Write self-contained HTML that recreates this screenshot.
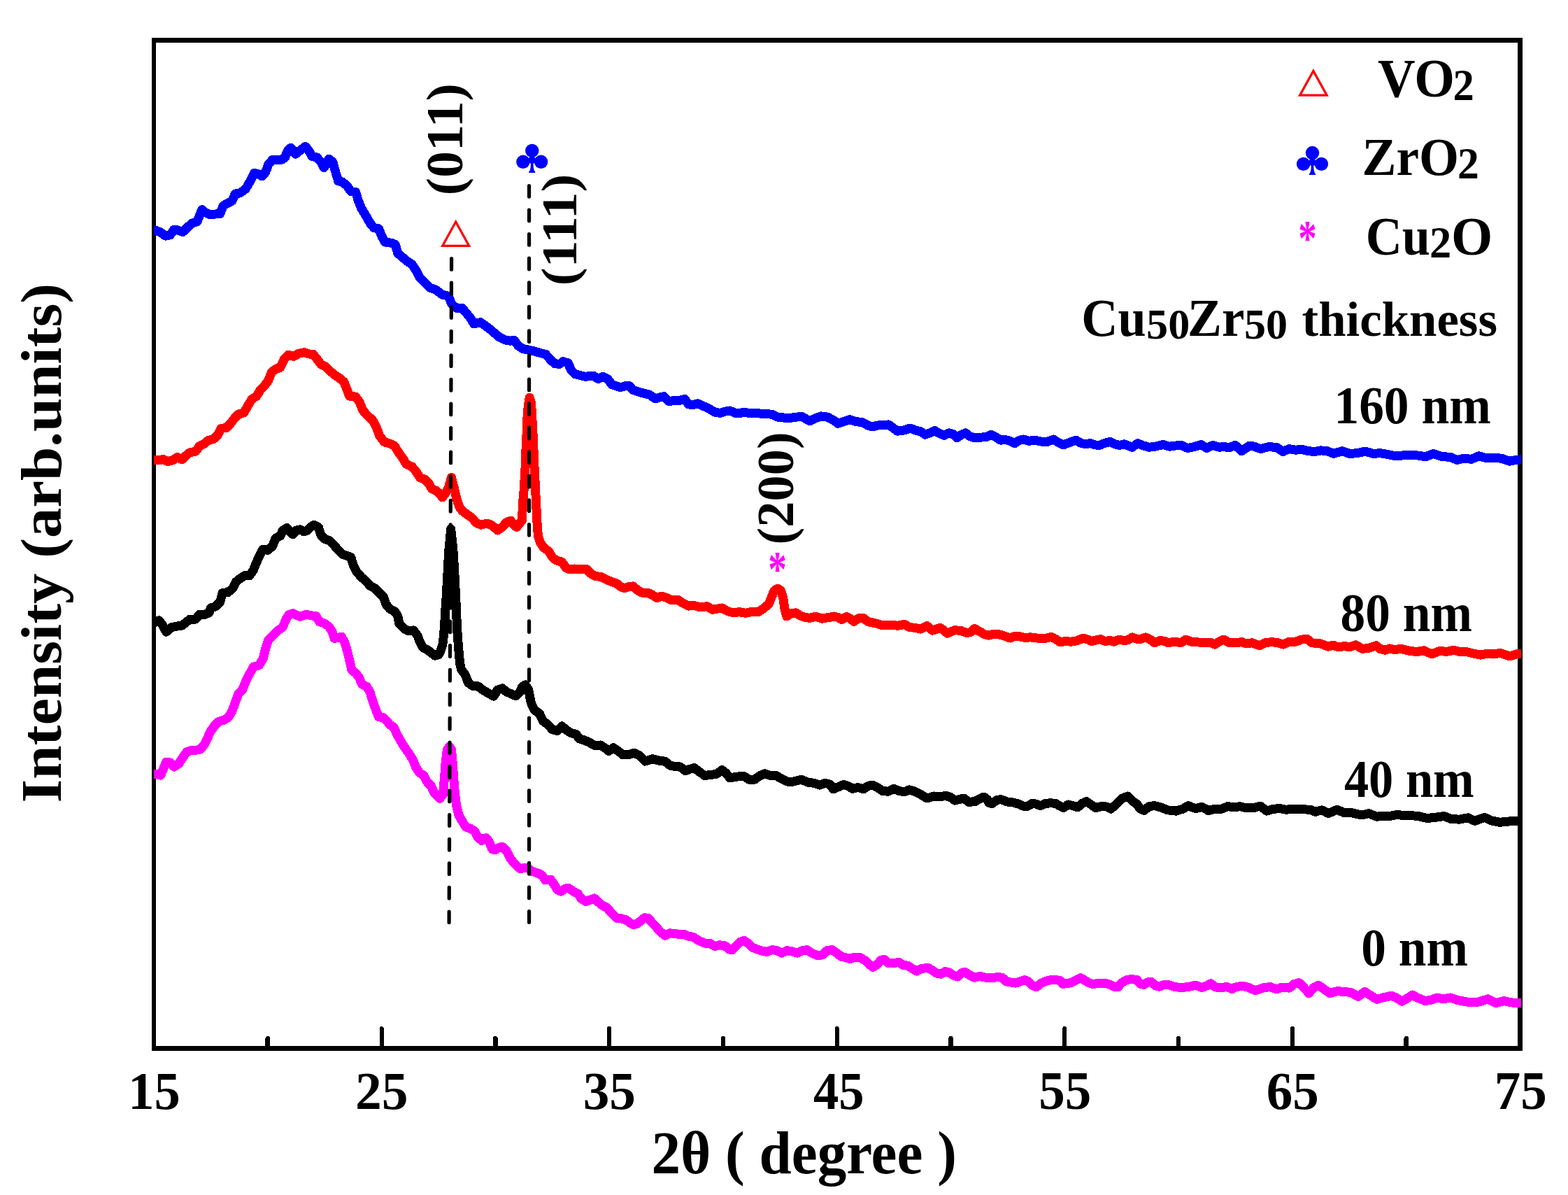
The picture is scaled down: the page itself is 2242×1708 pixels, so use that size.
<!DOCTYPE html>
<html lang="en"><head><meta charset="utf-8"><title>XRD patterns</title>
<style>html,body{margin:0;padding:0;background:#fff}svg{display:block}</style></head>
<body>
<svg width="2242" height="1708" viewBox="0 0 2242 1708" font-family="'Liberation Serif', serif" font-weight="bold" font-size="100">
<rect width="2242" height="1708" fill="#fff"/>
<defs><clipPath id="plot"><rect x="219.9" y="58" width="1955.2" height="1440"/></clipPath></defs>
<g stroke="#000" fill="none" shape-rendering="crispEdges">
<path d="M217 54H2177V1502H217Z M223 61V1495H2170V61Z" fill="#000" fill-rule="evenodd" stroke="none"/>
<line x1="382.79" y1="1497" x2="382.79" y2="1484.2" stroke-width="6.6" stroke-linecap="round"/>
<line x1="545.58" y1="1497" x2="545.58" y2="1470" stroke-width="6" stroke-linecap="round"/>
<line x1="708.38" y1="1497" x2="708.38" y2="1484.2" stroke-width="6.6" stroke-linecap="round"/>
<line x1="871.17" y1="1497" x2="871.17" y2="1470" stroke-width="6" stroke-linecap="round"/>
<line x1="1033.96" y1="1497" x2="1033.96" y2="1484.2" stroke-width="6.6" stroke-linecap="round"/>
<line x1="1196.75" y1="1497" x2="1196.75" y2="1470" stroke-width="6" stroke-linecap="round"/>
<line x1="1359.54" y1="1497" x2="1359.54" y2="1484.2" stroke-width="6.6" stroke-linecap="round"/>
<line x1="1522.33" y1="1497" x2="1522.33" y2="1470" stroke-width="6" stroke-linecap="round"/>
<line x1="1685.12" y1="1497" x2="1685.12" y2="1484.2" stroke-width="6.6" stroke-linecap="round"/>
<line x1="1847.92" y1="1497" x2="1847.92" y2="1470" stroke-width="6" stroke-linecap="round"/>
<line x1="2010.71" y1="1497" x2="2010.71" y2="1484.2" stroke-width="6.6" stroke-linecap="round"/>
</g>
<g clip-path="url(#plot)" shape-rendering="crispEdges">
<polyline points="217.0,1106.2 221.8,1106.2 229.7,1108.0 234.3,1097.2 237.7,1089.2 243.3,1089.9 249.0,1096.0 255.8,1091.5 261.5,1082.4 267.2,1074.5 274.0,1072.2 280.8,1072.2 286.4,1071.1 292.1,1064.3 296.6,1055.2 301.2,1045.0 306.8,1037.1 312.5,1031.4 320.4,1029.1 326.1,1025.7 331.8,1016.7 336.3,1004.2 340.9,991.7 346.5,986.1 351.1,974.7 356.7,963.4 362.4,953.2 370.3,950.9 376.0,941.8 379.4,928.2 383.9,914.6 390.7,907.8 397.5,901.0 404.3,896.5 408.9,885.1 413.4,878.3 419.1,876.8 424.8,879.5 429.3,881.3 433.8,879.9 438.4,878.3 445.2,879.9 452.0,880.6 456.5,888.5 463.3,890.8 470.1,895.4 474.6,902.2 478.0,912.4 483.7,911.2 488.2,910.1 492.8,918.0 496.2,929.4 499.6,943.0 503.0,957.7 508.7,962.2 513.2,967.9 517.7,978.1 524.5,981.5 529.1,989.5 532.5,1000.8 537.0,1013.3 541.5,1024.6 548.3,1025.7 554.0,1031.4 557.4,1035.9 563.1,1039.3 567.6,1049.5 573.3,1059.8 578.9,1068.8 584.6,1076.8 590.3,1085.8 594.8,1097.2 600.5,1105.1 606.2,1108.5 610.7,1117.6 616.4,1123.2 620.9,1133.4 625.4,1138.0 628.8,1141.4 633.4,1135.7 635.6,1110.8 637.2,1088.1 639.5,1071.1 642.4,1067.2 645.4,1071.1 647.0,1088.1 648.6,1110.8 650.4,1133.4 652.6,1151.6 656.0,1165.2 660.6,1173.1 666.2,1182.2 673.0,1184.5 678.7,1187.9 683.3,1196.9 688.9,1201.5 690.0,1198.4 695.7,1197.7 700.2,1204.5 703.6,1213.6 708.1,1214.7 713.8,1211.3 718.3,1210.2 724.0,1215.9 728.5,1224.9 734.2,1232.9 739.9,1238.5 744.4,1241.9 750.1,1240.1 754.6,1240.8 760.3,1245.3 768.2,1247.6 775.0,1251.0 779.6,1257.8 787.5,1257.3 792.0,1263.5 796.6,1271.4 802.2,1274.1 807.9,1270.3 812.4,1269.1 819.3,1273.7 826.1,1277.1 830.6,1283.9 837.4,1288.4 844.2,1286.1 849.9,1283.9 855.5,1289.5 861.2,1294.1 868.0,1297.5 874.8,1305.4 881.6,1312.2 888.4,1312.7 895.2,1314.9 900.9,1319.0 905.4,1321.7 911.1,1320.2 916.8,1315.6 921.3,1311.8 927.0,1312.2 931.5,1317.9 937.2,1323.6 942.8,1330.4 950.8,1337.2 957.6,1333.8 964.4,1334.4 971.2,1335.4 978.0,1335.4 984.8,1338.3 991.6,1339.4 998.4,1344.0 1007.5,1348.0 1015.4,1348.5 1022.2,1352.6 1029.0,1350.8 1036.9,1351.9 1042.6,1357.1 1047.1,1357.6 1052.8,1351.9 1058.5,1346.2 1064.1,1344.4 1069.8,1348.5 1075.5,1354.2 1083.4,1357.1 1090.2,1359.4 1097.0,1360.3 1103.8,1357.6 1110.6,1358.7 1117.4,1362.1 1125.4,1358.7 1132.2,1359.8 1140.1,1362.1 1146.9,1358.7 1153.7,1357.6 1160.5,1362.1 1168.5,1365.5 1170.0,1365.9 1176.8,1364.3 1182.5,1358.6 1189.3,1357.5 1196.1,1362.0 1202.9,1367.2 1209.7,1368.8 1215.4,1370.4 1222.2,1368.1 1230.1,1368.8 1236.9,1372.7 1242.6,1377.9 1248.2,1382.4 1255.0,1377.9 1259.6,1372.2 1264.1,1371.1 1270.9,1376.8 1278.8,1376.3 1285.6,1375.6 1291.3,1379.5 1298.1,1380.2 1304.9,1384.7 1310.6,1388.1 1317.4,1384.7 1326.5,1383.1 1333.3,1387.0 1340.1,1391.5 1345.7,1392.2 1351.4,1388.5 1357.1,1389.9 1362.7,1393.8 1369.5,1396.0 1375.2,1390.4 1379.8,1389.2 1386.6,1393.8 1393.4,1397.2 1401.3,1395.4 1409.2,1397.2 1419.4,1397.6 1426.2,1396.7 1433.0,1397.2 1438.7,1402.8 1445.5,1404.0 1452.3,1405.1 1459.1,1402.8 1464.8,1400.6 1470.5,1402.8 1476.1,1408.5 1481.8,1410.8 1487.5,1406.2 1494.3,1402.8 1502.2,1400.6 1510.1,1400.6 1515.8,1401.7 1519.2,1406.2 1526.0,1405.8 1532.8,1404.0 1539.6,1400.6 1545.3,1397.6 1552.1,1401.7 1557.8,1405.1 1563.4,1406.7 1571.4,1405.1 1580.4,1405.1 1587.2,1407.4 1592.9,1410.3 1598.6,1410.8 1603.1,1405.1 1611.0,1400.6 1617.8,1399.4 1625.8,1400.6 1630.3,1406.2 1636.0,1407.4 1640.5,1404.0 1646.2,1403.5 1651.9,1408.5 1657.5,1410.3 1664.3,1407.4 1670.0,1407.4 1679.3,1410.4 1688.5,1411.6 1700.1,1410.4 1709.4,1408.1 1718.6,1411.6 1725.6,1408.8 1731.3,1405.8 1738.3,1411.1 1746.4,1411.6 1754.5,1410.4 1761.4,1413.5 1768.4,1410.4 1777.6,1409.3 1785.8,1411.6 1795.0,1415.8 1805.4,1412.1 1815.8,1410.4 1825.1,1413.9 1833.2,1411.1 1843.6,1412.1 1850.6,1406.5 1857.5,1404.7 1864.5,1411.6 1871.4,1419.7 1878.4,1411.6 1885.3,1408.1 1893.4,1413.9 1901.5,1419.7 1911.9,1416.7 1922.3,1417.4 1931.6,1418.5 1942.0,1424.3 1951.3,1417.4 1960.5,1423.2 1968.6,1428.3 1979.1,1425.5 1989.5,1423.2 1996.4,1426.0 2004.5,1431.3 2012.6,1426.6 2019.6,1422.0 2027.7,1426.6 2038.1,1430.6 2047.3,1429.0 2054.3,1426.0 2063.6,1427.8 2074.0,1426.0 2084.4,1429.7 2093.7,1431.3 2102.9,1432.9 2114.5,1432.0 2127.2,1427.8 2138.8,1433.6 2150.4,1430.6 2160.8,1432.9 2170.0,1433.6 2186.3,1433.6" fill="none" stroke="#f0f" stroke-width="13" stroke-linejoin="round" stroke-linecap="butt"/>
<polyline points="217.0,889.5 221.8,889.5 227.5,886.8 232.0,892.9 237.7,903.2 244.5,896.8 252.4,895.2 260.4,894.1 266.0,889.5 271.7,885.0 279.6,885.0 285.3,878.2 293.2,878.2 298.9,875.9 301.2,869.1 308.0,866.9 314.8,860.1 318.2,847.6 326.1,846.5 332.9,840.8 337.4,831.7 344.3,826.1 349.9,822.7 356.7,822.7 362.4,814.7 366.9,803.4 371.5,793.2 376.0,785.2 382.8,786.4 389.6,780.7 394.1,769.4 400.9,766.0 404.3,758.0 410.5,754.6 414.5,760.3 418.6,763.7 423.6,758.0 429.3,756.9 434.5,759.8 439.5,758.0 444.0,753.5 449.0,750.1 455.4,753.5 458.8,764.8 464.4,770.5 471.2,772.8 478.0,779.6 483.7,786.4 489.4,792.0 496.2,794.3 501.8,796.6 505.2,807.9 509.8,817.0 516.6,824.9 523.4,830.6 529.1,837.4 535.9,840.8 542.7,847.6 548.3,853.3 551.7,863.5 557.4,870.3 564.2,873.7 568.7,880.5 571.0,891.8 577.8,898.6 584.6,902.0 591.4,900.9 597.1,908.8 600.5,917.9 605.0,925.8 611.8,929.2 617.5,933.8 622.0,937.2 627.5,935.5 630.5,929.0 632.8,921.7 634.5,908.0 635.6,894.3 636.3,880.6 637.2,866.9 638.2,853.2 638.9,839.5 639.6,825.9 640.4,812.2 641.1,798.5 642.0,784.8 643.4,771.1 644.6,756.0 646.4,771.1 647.8,784.8 648.7,798.5 649.4,812.2 650.2,825.9 650.9,839.5 651.6,853.2 652.3,866.9 652.8,880.6 653.5,894.3 654.2,908.0 655.3,921.7 656.4,935.4 657.8,949.1 659.4,956.4 665.1,964.4 669.6,975.7 675.3,980.2 683.3,980.7 690.1,985.9 697.9,990.6 705.9,995.1 711.5,986.1 718.3,983.8 724.0,988.8 730.8,991.7 737.6,994.7 743.3,989.5 746.7,981.5 751.2,978.8 755.8,986.1 759.2,1004.2 763.7,1014.4 771.6,1020.1 776.2,1030.3 783.0,1035.5 789.8,1042.7 796.6,1044.6 803.4,1037.8 810.2,1043.9 817.0,1047.7 823.8,1049.5 828.3,1055.9 836.3,1058.2 844.2,1062.0 851.0,1065.9 858.9,1065.0 864.6,1068.8 870.3,1073.4 877.1,1068.8 883.9,1073.4 890.7,1079.0 898.6,1078.6 906.6,1076.3 914.5,1080.2 922.4,1088.1 932.6,1084.7 941.7,1087.0 950.8,1088.1 958.7,1094.4 965.5,1095.4 972.3,1096.0 980.2,1101.7 985.9,1099.4 992.7,1097.6 999.5,1102.8 1007.5,1108.5 1016.5,1107.4 1024.5,1106.2 1032.4,1100.6 1038.1,1105.1 1043.7,1111.9 1052.8,1110.3 1063.0,1109.0 1071.0,1114.2 1078.9,1114.2 1086.8,1108.5 1093.6,1105.8 1101.6,1108.5 1109.5,1108.5 1117.4,1113.0 1125.4,1117.1 1134.4,1117.1 1145.8,1114.2 1154.9,1118.0 1163.9,1119.4 1171.9,1122.1 1179.8,1119.4 1186.6,1121.0 1191.5,1127.8 1199.5,1124.4 1206.3,1121.5 1213.1,1123.7 1218.8,1127.3 1226.7,1125.5 1234.6,1127.8 1241.4,1123.3 1247.1,1122.1 1253.9,1125.1 1261.8,1130.5 1269.8,1131.2 1277.7,1127.3 1284.5,1130.1 1292.4,1131.9 1300.4,1128.9 1308.3,1131.2 1315.1,1134.6 1325.3,1141.0 1335.5,1138.0 1344.6,1138.7 1352.5,1137.3 1359.3,1139.6 1365.0,1144.1 1371.8,1142.5 1378.2,1141.0 1385.4,1146.4 1394.5,1145.5 1401.3,1141.4 1407.0,1139.1 1411.5,1142.5 1413.8,1147.1 1418.3,1148.7 1425.1,1143.7 1430.8,1142.5 1439.8,1145.9 1448.9,1147.1 1456.8,1149.3 1463.7,1152.3 1469.3,1152.3 1476.1,1148.2 1481.8,1149.3 1487.5,1151.6 1494.3,1148.7 1501.1,1147.8 1509.0,1148.2 1514.7,1151.6 1520.3,1154.6 1527.1,1150.0 1533.9,1151.6 1540.7,1153.9 1547.6,1148.2 1553.2,1145.5 1560.0,1150.0 1566.8,1154.6 1575.9,1152.3 1582.7,1153.2 1588.4,1156.1 1596.3,1149.3 1604.2,1141.4 1612.2,1138.0 1619.0,1144.8 1625.8,1149.3 1630.3,1156.1 1636.0,1158.4 1642.8,1152.7 1650.7,1151.6 1659.8,1153.9 1670.0,1157.9 1681.6,1159.1 1690.8,1156.3 1698.9,1151.7 1709.4,1155.6 1718.6,1153.3 1727.9,1158.6 1737.1,1156.3 1746.4,1156.3 1755.7,1152.6 1764.9,1154.0 1773.0,1152.6 1782.3,1154.9 1791.5,1154.9 1802.0,1152.1 1811.2,1159.1 1820.5,1156.3 1829.7,1155.6 1839.0,1157.2 1850.6,1156.3 1862.1,1156.8 1873.7,1157.2 1880.7,1160.3 1889.9,1157.9 1899.2,1162.6 1911.9,1157.2 1922.3,1161.9 1931.6,1161.4 1940.9,1163.7 1947.8,1164.9 1957.1,1162.6 1968.6,1167.2 1980.2,1166.0 1989.5,1166.0 1998.7,1164.2 2008.0,1166.0 2017.3,1165.6 2027.7,1166.5 2040.4,1169.5 2052.0,1168.4 2064.7,1166.5 2075.1,1170.7 2086.7,1171.1 2099.4,1168.8 2108.7,1173.4 2122.6,1168.4 2133.0,1173.0 2144.6,1175.3 2156.2,1174.1 2170.0,1173.0 2186.3,1173.0" fill="none" stroke="#000" stroke-width="13" stroke-linejoin="round" stroke-linecap="butt"/>
<polyline points="217.0,657.2 221.8,657.2 227.5,657.9 233.1,656.3 239.9,659.5 246.7,657.9 253.5,653.4 260.4,656.8 266.0,651.1 271.7,646.6 279.6,645.4 285.3,637.5 292.1,634.1 297.8,629.5 305.7,627.3 311.4,621.6 315.9,612.5 323.8,611.4 329.5,605.7 335.2,597.8 340.9,592.1 348.8,589.9 354.5,579.7 360.1,570.6 366.9,566.1 372.6,557.0 378.3,551.3 383.9,543.4 388.5,532.0 394.1,527.5 400.9,525.2 406.6,512.8 412.3,507.1 420.2,509.4 427.0,505.3 435.0,503.7 441.8,506.0 447.4,506.0 453.1,512.8 458.8,520.7 465.6,524.1 471.2,529.8 478.0,535.4 484.8,540.0 491.6,545.6 496.2,557.0 499.6,566.1 508.7,567.2 514.3,575.1 518.9,586.5 525.7,594.4 532.5,600.1 538.1,610.3 542.7,622.7 549.5,631.8 557.4,634.1 564.2,637.5 569.9,646.6 575.5,654.5 581.2,663.6 589.1,667.0 594.8,673.8 600.5,682.8 607.3,685.1 613.0,690.8 617.5,698.7 623.2,701.0 628.8,705.5 632.5,711.0 637.0,705.0 641.0,698.0 643.0,691.0 645.5,682.5 647.5,691.0 649.5,698.0 652.0,709.0 654.5,718.0 657.5,726.0 662.0,731.0 670.8,737.3 675.3,740.7 681.0,747.5 687.8,750.2 690.0,749.5 696.8,748.1 703.6,751.1 711.5,757.9 718.3,753.4 724.0,746.6 730.4,744.3 735.4,751.1 738.8,753.4 743.3,747.7 746.5,743.7 747.5,718.6 748.8,704.9 750.6,677.5 751.6,656.9 752.2,636.4 753.3,615.9 754.3,588.5 755.7,577.5 757.2,568.2 759.4,574.8 760.7,595.3 761.8,615.9 762.8,636.4 763.5,656.9 764.6,677.5 765.5,698.0 766.9,725.4 767.6,739.1 768.3,752.0 769.4,765.8 772.8,776.0 777.3,782.8 784.1,787.4 789.8,796.4 795.4,801.0 803.4,803.2 809.0,811.2 814.7,813.9 821.5,813.0 830.6,813.4 838.5,813.4 845.3,820.2 852.1,823.7 858.9,824.3 866.9,828.2 874.8,831.6 881.6,833.9 887.3,838.4 892.9,840.7 898.6,838.8 905.4,837.9 912.2,844.1 919.0,847.5 927.0,847.5 933.8,850.9 939.4,854.7 946.2,852.0 953.0,854.3 959.8,857.7 968.9,857.0 976.8,862.2 984.8,866.1 992.7,865.6 1001.8,867.9 1010.9,866.7 1018.8,871.3 1025.6,870.1 1032.4,869.0 1040.3,873.5 1048.3,875.8 1057.3,874.7 1066.4,876.3 1075.5,874.2 1084.6,874.7 1092.5,869.0 1099.3,863.3 1103.8,852.0 1107.2,844.1 1111.8,841.1 1116.3,844.1 1119.7,854.3 1122.0,870.1 1124.9,881.0 1131.0,876.9 1137.8,875.8 1144.6,880.3 1151.5,882.6 1158.3,883.3 1166.2,881.0 1175.3,884.2 1183.2,882.6 1185.9,882.5 1192.7,881.0 1198.3,882.5 1203.6,885.5 1210.8,881.4 1215.4,884.1 1221.0,888.2 1227.8,883.7 1234.6,883.7 1241.4,888.7 1248.2,890.0 1255.0,891.6 1261.8,893.9 1269.8,893.9 1276.6,893.2 1283.4,894.3 1293.6,892.3 1300.4,896.6 1308.3,897.3 1316.3,899.1 1325.3,894.6 1333.3,901.1 1344.6,897.3 1354.8,905.2 1365.0,900.7 1374.1,901.4 1382.0,904.5 1387.7,903.6 1393.4,898.4 1401.3,902.9 1408.1,906.8 1413.8,908.2 1420.6,906.3 1428.5,906.8 1436.4,909.1 1444.4,912.0 1451.2,909.1 1458.0,909.8 1464.8,911.3 1473.9,910.9 1482.9,912.0 1489.7,912.7 1496.5,912.0 1503.3,910.4 1509.0,913.2 1515.8,917.7 1523.7,916.6 1531.7,917.2 1539.6,915.9 1548.7,912.0 1555.5,914.3 1561.2,916.6 1566.8,915.0 1573.6,913.6 1580.4,916.6 1587.2,915.4 1592.9,917.2 1599.7,914.3 1606.5,915.4 1612.2,915.0 1619.0,910.9 1625.8,913.2 1631.5,913.2 1638.3,910.9 1645.1,914.3 1650.7,918.8 1658.7,915.4 1665.5,916.6 1670.0,918.8 1679.3,917.1 1688.5,918.8 1695.5,914.1 1704.7,917.6 1716.3,918.1 1730.2,918.1 1737.1,921.1 1744.1,916.5 1749.9,914.1 1758.0,918.8 1767.2,918.8 1775.3,917.6 1781.1,919.9 1790.4,918.8 1800.8,922.7 1808.9,918.8 1818.2,917.6 1827.4,918.8 1834.8,921.1 1842.5,917.6 1852.9,917.1 1861.0,914.1 1869.1,913.4 1876.0,918.8 1887.6,919.9 1899.2,924.1 1906.1,922.2 1914.2,925.0 1922.3,923.4 1929.3,925.0 1938.5,921.8 1947.8,927.3 1957.1,926.4 1967.5,922.7 1973.3,927.3 1980.2,929.2 1987.2,926.9 1994.1,928.7 2003.4,927.3 2014.9,930.3 2026.5,931.5 2035.8,929.7 2047.3,935.0 2058.9,930.3 2068.2,931.5 2078.6,929.2 2086.7,931.5 2098.3,932.0 2107.5,934.3 2116.8,936.1 2126.1,934.3 2135.3,935.0 2145.7,933.4 2158.5,938.0 2167.7,935.0 2174.7,934.3 2186.3,934.3" fill="none" stroke="#f00" stroke-width="13" stroke-linejoin="round" stroke-linecap="butt"/>
<polyline points="217.0,329.1 221.8,329.1 228.6,331.4 236.5,337.1 243.3,335.9 249.0,328.0 254.7,329.1 261.5,331.4 268.3,324.6 275.1,318.9 281.9,316.7 288.7,299.7 294.4,304.2 300.0,306.9 308.0,306.0 314.8,305.3 319.3,294.0 326.1,290.1 331.8,287.2 336.3,277.0 343.1,275.9 351.1,270.2 357.9,258.8 363.5,247.5 369.2,248.6 374.9,252.0 379.4,246.4 383.9,235.0 389.6,228.2 396.4,228.2 403.2,228.2 407.7,224.8 411.1,215.8 415.7,211.2 419.1,214.6 422.5,220.3 428.2,215.8 432.7,212.4 436.8,209.4 441.8,215.8 446.3,223.7 453.1,224.8 458.8,231.6 463.3,239.6 466.7,233.9 470.1,227.1 475.8,231.6 480.3,247.5 483.7,258.8 489.4,260.0 496.2,265.6 501.8,273.6 508.7,274.7 512.1,286.1 516.6,297.4 523.4,308.7 529.1,318.9 534.7,325.7 541.5,326.9 546.1,338.2 550.6,346.1 559.7,347.3 565.3,349.5 568.7,362.0 575.5,367.7 582.3,373.4 589.1,377.9 596.0,388.1 600.5,397.2 607.3,404.0 614.1,410.8 623.2,414.2 632.2,421.0 641.3,423.2 645.8,434.6 652.6,440.2 660.6,440.2 667.4,448.2 673.0,455.0 677.6,462.9 686.7,460.7 693.5,465.2 702.5,472.0 706.8,475.9 713.6,481.5 722.7,486.1 729.5,487.2 735.1,486.1 740.8,494.0 747.6,498.5 755.6,500.1 763.5,501.9 772.6,504.6 780.5,506.5 787.3,514.4 793.0,519.6 799.8,520.5 805.4,516.7 812.2,518.9 816.8,529.1 822.4,534.8 829.3,536.4 836.1,538.2 842.9,537.8 848.5,537.1 855.3,541.6 862.1,538.2 868.9,541.6 874.6,549.5 881.4,551.8 887.1,553.6 893.9,551.8 899.5,551.4 905.2,557.5 912.0,559.8 920.0,562.0 929.0,564.3 937.0,570.0 943.8,567.7 949.4,566.6 956.2,573.4 964.2,572.7 972.1,572.2 978.9,570.4 984.6,577.9 991.4,578.6 997.5,576.8 1005.0,580.2 1012.9,583.6 1022.0,589.2 1029.9,590.4 1036.7,588.1 1043.5,587.0 1051.5,590.4 1057.1,590.8 1062.8,589.2 1071.9,590.4 1083.2,590.8 1094.6,591.5 1103.6,592.2 1111.6,596.0 1121.8,597.2 1130.8,597.2 1139.9,596.0 1146.7,595.4 1153.5,599.4 1158.0,601.7 1164.9,598.3 1173.9,594.9 1183.0,596.0 1192.1,600.6 1198.1,605.3 1207.2,602.4 1215.1,599.7 1223.1,602.4 1233.3,603.7 1240.1,607.6 1246.9,609.9 1257.1,607.6 1270.7,606.9 1277.5,612.1 1283.2,616.2 1292.2,615.1 1301.3,612.1 1309.3,615.1 1316.1,616.7 1322.9,621.2 1329.7,618.9 1336.5,615.5 1343.3,619.6 1350.1,622.3 1356.9,618.9 1362.5,620.5 1368.2,625.7 1375.0,621.2 1380.7,618.9 1386.3,623.5 1393.2,625.7 1402.2,625.1 1410.2,624.6 1417.0,621.2 1423.8,624.6 1430.6,629.1 1438.5,628.7 1444.2,630.3 1451.0,633.7 1457.8,629.1 1463.4,628.0 1471.4,630.3 1479.3,629.1 1488.4,631.0 1497.5,631.4 1506.5,628.0 1513.3,632.5 1520.1,635.9 1529.2,632.5 1538.3,629.1 1545.1,633.2 1551.9,634.8 1558.7,633.7 1565.5,635.9 1572.3,636.4 1580.2,633.2 1587.0,631.4 1593.8,634.8 1600.6,636.4 1607.4,634.8 1613.1,637.1 1618.8,639.3 1626.7,633.7 1633.5,636.4 1642.6,639.3 1651.7,638.2 1663.0,635.5 1672.1,638.2 1680.0,637.1 1689.1,636.4 1698.1,640.5 1707.2,638.7 1717.4,635.5 1725.4,640.5 1734.4,636.4 1743.5,639.3 1750.3,638.2 1757.1,640.0 1766.2,636.4 1775.2,644.6 1786.6,637.1 1793.4,638.2 1802.4,641.6 1813.8,638.7 1825.1,639.3 1834.2,645.5 1843.3,641.6 1852.3,643.2 1861.4,642.3 1870.5,644.6 1879.5,645.5 1888.6,643.9 1897.7,644.6 1906.8,648.4 1919.2,644.6 1929.4,648.4 1940.8,647.7 1952.1,645.0 1963.4,648.4 1973.7,647.7 1983.9,649.5 1995.2,651.8 2008.8,650.7 2020.1,650.2 2030.3,651.4 2038.3,652.9 2049.6,648.4 2061.0,652.3 2074.6,653.6 2083.6,657.5 2092.7,655.2 2104.0,656.3 2114.2,651.8 2124.4,654.5 2133.5,654.1 2147.1,655.2 2158.5,659.1 2167.5,657.5 2175.5,656.8 2185.7,656.8" fill="none" stroke="#00f" stroke-width="13" stroke-linejoin="round" stroke-linecap="butt"/>
</g>
<g stroke="#000" stroke-width="5.2" stroke-linecap="round" stroke-dasharray="15.6 18.97" fill="none">
<line x1="645.6" y1="369.6" x2="642.1" y2="1318.5"/>
<line x1="756.55" y1="265.5" x2="756.55" y2="1318.5"/>
</g>
<polygon points="1877.90,101.40 1897.18,136.20 1858.62,136.20" fill="none" stroke="#f00" stroke-width="3.2" stroke-linejoin="miter"/>
<polygon points="651.70,317.01 670.69,351.40 632.71,351.40" fill="none" stroke="#f00" stroke-width="3.2" stroke-linejoin="miter"/>
<g transform="translate(1853.90,208.80) scale(0.4520,0.4527)" fill="#00f"><circle cx="50" cy="21.5" r="21.5"/><circle cx="21.5" cy="56.5" r="21.5"/><circle cx="78.5" cy="56.5" r="21.5"/><path d="M50 30 L32 56 L46 62 C46 74 45 83 40 88 L40 91 L60 91 L60 88 C55 83 54 74 54 62 L68 56 Z"/></g>
<g transform="translate(738.20,205.70) scale(0.4510,0.4538)" fill="#00f"><circle cx="50" cy="21.5" r="21.5"/><circle cx="21.5" cy="56.5" r="21.5"/><circle cx="78.5" cy="56.5" r="21.5"/><path d="M50 30 L32 56 L46 62 C46 74 45 83 40 88 L40 91 L60 91 L60 88 C55 83 54 74 54 62 L68 56 Z"/></g>
<text transform="translate(183.18,1585.01) scale(0.7455,0.7593)">15</text>
<text transform="translate(507.94,1585.01) scale(0.7552,0.7593)">25</text>
<text transform="translate(833.65,1585.01) scale(0.7531,0.7593)">35</text>
<text transform="translate(1163.00,1585.01) scale(0.7267,0.7593)">45</text>
<text transform="translate(1485.25,1584.99) scale(0.7509,0.7769)">55</text>
<text transform="translate(1810.65,1585.01) scale(0.7509,0.7593)">65</text>
<text transform="translate(2136.78,1584.99) scale(0.7506,0.7769)">75</text>
<text transform="translate(931.40,1677.10) scale(0.8312,0.8677)">2θ ( degree )</text>
<text transform="translate(87.38,1147.41) rotate(-90) scale(0.8679,0.8146)">Intensity (arb.units)</text>
<text><tspan x="1970.00" y="138.48" font-size="77.82" textLength="109.93" lengthAdjust="spacingAndGlyphs">VO</tspan><tspan x="2077.61" y="142.80" font-size="62.51" textLength="30.29" lengthAdjust="spacingAndGlyphs">2</tspan></text>
<text><tspan x="1947.56" y="250.30" font-size="77.09" textLength="138.53" lengthAdjust="spacingAndGlyphs">ZrO</tspan><tspan x="2084.07" y="255.00" font-size="63.11" textLength="30.86" lengthAdjust="spacingAndGlyphs">2</tspan></text>
<text><tspan x="1952.72" y="363.59" font-size="77.38" textLength="92.18" lengthAdjust="spacingAndGlyphs">Cu</tspan><tspan x="2043.94" y="367.90" font-size="62.66" textLength="31.31" lengthAdjust="spacingAndGlyphs">2</tspan><tspan x="2075.03" y="363.59" font-size="77.38" textLength="59.28" lengthAdjust="spacingAndGlyphs">O</tspan></text>
<text><tspan x="1546.31" y="480.11" font-size="76.36" textLength="92.39" lengthAdjust="spacingAndGlyphs">Cu</tspan><tspan x="1639.06" y="484.15" font-size="60.95" textLength="62.19" lengthAdjust="spacingAndGlyphs">50</tspan><tspan x="1698.07" y="480.20" font-size="76.50" textLength="81.40" lengthAdjust="spacingAndGlyphs">Zr</tspan><tspan x="1779.06" y="484.15" font-size="60.95" textLength="62.08" lengthAdjust="spacingAndGlyphs">50</tspan> <tspan x="1861.59" y="480.10" font-size="70.12" textLength="279.41" lengthAdjust="spacingAndGlyphs">thickness</tspan></text>
<text transform="translate(1907.42,604.82) scale(0.7146,0.7564)">160 nm</text>
<text transform="translate(1916.57,902.49) scale(0.7142,0.7738)">80 nm</text>
<text transform="translate(1921.90,1138.91) scale(0.7046,0.7607)">40 nm</text>
<text transform="translate(1946.27,1380.32) scale(0.7142,0.7578)">0 nm</text>
<text transform="translate(661.16,279.17) rotate(-90) scale(0.7580,0.7333)">(011)</text>
<text transform="translate(824.15,408.53) rotate(-90) scale(0.7781,0.7289)">(111)</text>
<text transform="translate(1133.91,778.53) rotate(-90) scale(0.7443,0.7311)">(200)</text>
<text transform="translate(1856.24,364.40) scale(0.5303,0.7219)" fill="#f0f">*</text>
<text transform="translate(1098.33,837.26) scale(0.5349,0.7168)" fill="#f0f">*</text>
</svg>
</body></html>
